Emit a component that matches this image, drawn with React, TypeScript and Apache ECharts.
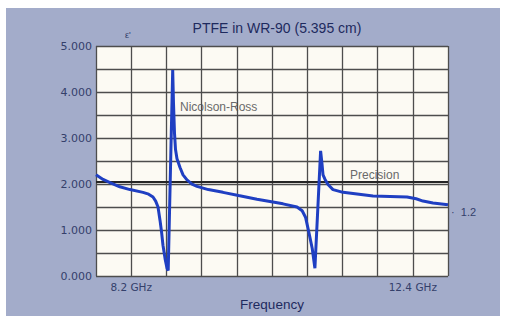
import React, { useEffect, useRef } from "react";
import * as echarts from "echarts";

const title = "PTFE in WR-90 (5.395 cm)";
const xName = "Frequency";
const xTickValues = [8.2, 12.4];
const yTicks = [0, 1, 2, 3, 4, 5];
const precisionValue = 2.05;

const freq = [
  7.675, 7.78, 7.884, 8.03, 8.182, 8.376, 8.46, 8.525, 8.565, 8.6, 8.63, 8.655, 8.674, 8.705, 8.734, 8.752,
  8.819, 8.831, 8.846, 8.861, 8.883, 8.928, 8.973, 9.032, 9.107, 9.181, 9.35, 9.569, 9.8, 10.076, 10.464,
  10.673, 10.75, 10.8, 10.85, 10.9, 10.94, 11.025, 11.045, 11.061, 11.091, 11.135, 11.21, 11.36, 11.807, 12.314,
  12.45, 12.552, 12.701, 12.925,
];
const epsilon = [
  2.2, 2.1, 2.03, 1.94, 1.88, 1.82, 1.78, 1.72, 1.63, 1.5, 1.21, 0.93, 0.67, 0.38, 0.17, 0.12,
  4.48, 3.75, 3.1, 2.75, 2.55, 2.36, 2.2, 2.09, 2.0, 1.95, 1.88, 1.82, 1.75, 1.67, 1.57,
  1.5, 1.42, 1.28, 0.95, 0.6, 0.17, 2.72, 2.45, 2.2, 2.1, 1.99, 1.88, 1.82, 1.74, 1.72,
  1.68, 1.63, 1.59, 1.55,
];

const FONT = "'Liberation Sans', Arial, sans-serif";
const WIDE = "'DejaVu Sans', Verdana, sans-serif";

export default function App() {
  const ref = useRef<HTMLDivElement>(null);
  useEffect(() => {
    document.body.style.margin = "0";
    const chart = echarts.init(ref.current!, null, { renderer: "svg" });
    const data = freq.map((f, i) => [f, epsilon[i]]);
    chart.setOption({
      animation: false,
      textStyle: { fontFamily: FONT },
      title: {
        text: title,
        left: 272,
        top: 16,
        textAlign: "center",
        textStyle: { fontSize: 14, fontWeight: "normal", color: "#1e2a5e", fontFamily: FONT },
      },
      grid: {
        left: 96,
        top: 46,
        right: 62,
        bottom: 31,
        show: true,
        backgroundColor: "#fcfaf3",
        borderWidth: 0,
      },
      xAxis: [
        {
          type: "value",
          min: 7.675,
          max: 12.925,
          axisLine: { show: false },
          axisTick: { show: false },
          splitLine: { show: false },
          axisLabel: {
            customValues: xTickValues,
            formatter: (v: number) => v.toFixed(1) + " GHz",
            color: "#34406a",
            fontSize: 10.5,
            fontFamily: WIDE,
            margin: 5,
          },
          name: xName,
          nameLocation: "middle",
          nameGap: 16,
          nameTextStyle: { fontSize: 13.5, color: "#1e2a5e", fontFamily: FONT },
        },
        {
          type: "value",
          min: 0,
          max: 10,
          interval: 1,
          position: "bottom",
          axisLine: { show: false },
          axisTick: { show: false },
          axisLabel: { show: false },
          splitLine: { show: true, lineStyle: { color: "#4d4d4d", width: 1.3 } },
        },
      ],
      yAxis: {
        type: "value",
        min: 0,
        max: 5,
        interval: 0.5,
        axisLine: { show: false },
        axisTick: { show: false },
        splitLine: { show: true, lineStyle: { color: "#4d4d4d", width: 1.3 } },
        axisLabel: {
          formatter: (v: number) => (yTicks.includes(v) ? v.toFixed(3) : ""),
          color: "#34406a",
          fontSize: 11,
          fontFamily: WIDE,
          margin: 4,
        },
      },
      series: [
        {
          type: "line",
          data,
          xAxisIndex: 0,
          showSymbol: false,
          lineStyle: { color: "#1f3fc2", width: 3 },
          z: 5,
          markLine: {
            silent: true,
            symbol: ["none", "none"],
            label: { show: false },
            lineStyle: { color: "#262626", width: 2, type: "solid" },
            data: [{ yAxis: precisionValue }],
            z: 4,
          },
        },
      ],
      graphic: [
        { type: "text", left: 180, top: 101, style: { text: "Nicolson-Ross", fontSize: 12, fill: "#6a6a6a", fontFamily: FONT } },
        { type: "text", left: 350, top: 169, style: { text: "Precision", fontSize: 12, fill: "#6a6a6a", fontFamily: FONT } },
        { type: "text", left: 125, top: 30, style: { text: "ε'", fontSize: 9, fill: "#34406a", fontFamily: FONT } },
        { type: "text", left: 451, top: 206, style: { text: "·  1.2", fontSize: 11, fill: "#34406a", fontFamily: FONT } },
      ],
    });
    return () => chart.dispose();
  }, []);
  return (
    <div style={{ position: "relative", width: 510, height: 316, background: "#ffffff" }}>
      <div style={{ position: "absolute", left: 6, top: 8, width: 494, height: 308, background: "#a3acca" }} />
      <div ref={ref} style={{ position: "absolute", left: 0, top: 0, width: 510, height: 316 }} />
    </div>
  );
}
